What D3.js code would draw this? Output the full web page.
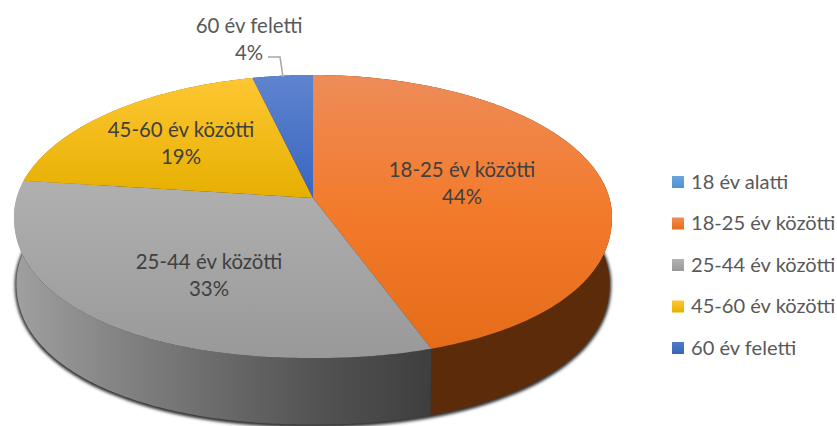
<!DOCTYPE html>
<html>
<head>
<meta charset="utf-8">
<script src="https://cdn.jsdelivr.net/npm/d3@7"></script>
<style>
	html, body { margin: 0; padding: 0; background: #fff; overflow: hidden; }
	text { font-family: Lato, "Open Sans", sans-serif; }
</style>
</head>
<body>
<div class="canvas"></div>
<script>
	const categories = ["18 év alatti", "18-25 év közötti", "25-44 év közötti", "45-60 év közötti", "60 év feletti"];
	const values = [0, 44.3, 32.7, 19.3, 3.7];
	const percentLabels = ["0%", "44%", "33%", "19%", "4%"];

	const topColors = [
		["#6aa6dc", "#4f91cf"],
		["#ee8c58", "#f37a2b", "#e56c18"],
		["#b0b0b0", "#999999"],
		["#fec733", "#e6af00"],
		["#5f84cf", "#3a66c0"],
	];
	const legendColors = [
		["#6aa6dc", "#4f91cf"],
		["#ef8c58", "#e76d18"],
		["#b3b3b3", "#999999"],
		["#fec733", "#e6af00"],
		["#4f7bcb", "#3b64b5"],
	];
	// [x, y] of the two line label centre, one per category
	const labelSpots = [null, [462, 170], [209, 262], [181, 130], [249, 26]];

	const dimensions = { width: 837, height: 426 };
	const disc = { cx: 313, cy: 198, rx: 296.4, ry: 139.1, k: 0.1307 };
	const depth = 66.5;
	const bottomScale = 0.992;
	// the front half of the rim is a bit fuller than a true ellipse
	const rimPower = 2.15;

	const svg = d3
		.select(".canvas")
		.append("svg")
		.attr("width", dimensions.width)
		.attr("height", dimensions.height)
		.style("display", "block");
	const defs = svg.append("defs");

	// circle seen in perspective: nearer edge is further from the centre
	const project = (angle, lower) => {
		const u = Math.sin(angle);
		const v = -Math.cos(angle);
		const w = 1 - disc.k * v;
		const s = lower ? bottomScale : 1;
		const px = (disc.rx * u) / w;
		let py = (disc.ry * v) / w;
		const halfW = disc.rx / Math.sqrt(1 - disc.k * disc.k);
		const halfH = disc.ry / (1 - disc.k * disc.k);
		const midY = (disc.ry * disc.k) / (1 - disc.k * disc.k);
		if (py > midY) {
			const nx = Math.min(1, Math.abs(px) / halfW);
			py = midY + halfH * Math.pow(1 - Math.pow(nx, rimPower), 1 / rimPower);
		}
		return [disc.cx + s * px, disc.cy + (lower ? depth : 0) + py];
	};
	const sample = (from, to, lower) =>
		d3.range(0, 161).map((i) => project(from + ((to - from) * i) / 160, lower));
	const line = d3.line();

	const pie = d3.pie().sort(null).value((d) => d);
	const slices = pie(values);

	const addVertical = (id, colors) => {
		const g = defs.append("linearGradient").attr("id", id)
			.attr("x1", 0).attr("y1", 0).attr("x2", 0).attr("y2", 1);
		colors.forEach((c, i) => {
			g.append("stop").attr("offset", i / (colors.length - 1)).attr("stop-color", c);
		});
	};
	topColors.forEach((c, i) => addVertical(`top${i}`, c));
	legendColors.forEach((c, i) => addVertical(`leg${i}`, c));

	const grayWall = defs.append("linearGradient").attr("id", "grayWall")
		.attr("gradientUnits", "userSpaceOnUse")
		.attr("x1", 15).attr("y1", 0).attr("x2", 432).attr("y2", 0);
	grayWall.append("stop").attr("offset", "0%").attr("stop-color", "#a0a0a0");
	grayWall.append("stop").attr("offset", "25%").attr("stop-color", "#838383");
	grayWall.append("stop").attr("offset", "70%").attr("stop-color", "#555555");
	grayWall.append("stop").attr("offset", "100%").attr("stop-color", "#3e3e3e");

	const blur = defs.append("filter").attr("id", "soft")
		.attr("x", "-5%").attr("y", "-5%").attr("width", "110%").attr("height", "110%");
	blur.append("feGaussianBlur").attr("stdDeviation", 1.6);

	const wallFills = ["#3c6e9c", "#5c2c0a", "url(#grayWall)", "#8a6a00", "#2b4a85"];

	const graph = svg.append("g");

	// shadow under the whole disc
	graph.append("path")
		.attr("d", line(sample(0, 2 * Math.PI, true)) + "Z")
		.attr("transform", "translate(0,1)")
		.attr("fill", "#333333")
		.attr("stroke", "#333333")
		.attr("stroke-width", 3.5)
		.attr("filter", "url(#soft)");

	graph.selectAll("path.wall")
		.data(slices.filter((d) => d.value > 0))
		.enter()
		.append("path")
		.attr("class", "wall")
		.attr("fill", (d) => wallFills[d.index])
		.attr("d", (d) =>
			line(sample(d.startAngle, d.endAngle, false).concat(sample(d.endAngle, d.startAngle, true))) + "Z"
		);

	graph.selectAll("path.slice")
		.data(slices.filter((d) => d.value > 0))
		.enter()
		.append("path")
		.attr("class", "slice")
		.attr("fill", (d) => `url(#top${d.index})`)
		.attr("d", (d) =>
			line([[disc.cx, disc.cy]].concat(sample(d.startAngle, d.endAngle, false))) + "Z"
		);

	// leader for the small slice
	svg.append("path")
		.attr("d", line([[268, 57], [280, 57], [283, 77]]))
		.attr("fill", "none")
		.attr("stroke", "#a6a6a6")
		.attr("stroke-width", 1.5);

	const labels = svg.selectAll("g.label")
		.data(categories.map((name, i) => ({ name, i })).filter((d) => labelSpots[d.i]))
		.enter()
		.append("g")
		.attr("class", "label")
		.attr("transform", (d) => `translate(${labelSpots[d.i][0]}, ${labelSpots[d.i][1]})`)
		.attr("text-anchor", "middle")
		.attr("font-size", 20.4)
		.attr("fill", (d) => (d.i === 4 ? "#595959" : "#404040"));
	labels.append("text").attr("y", 6.5).text((d) => d.name);
	labels.append("text").attr("y", 33.5).text((d) => percentLabels[d.i]);

	const legendY = d3.scalePoint().domain(categories).range([182, 348]);
	const legend = svg.selectAll("g.legend")
		.data(categories)
		.enter()
		.append("g")
		.attr("class", "legend")
		.attr("transform", (d) => `translate(672, ${legendY(d)})`);
	legend.append("rect")
		.attr("y", -6).attr("width", 12).attr("height", 12)
		.attr("fill", (d, i) => `url(#leg${i})`);
	legend.append("text")
		.attr("x", 19).attr("y", 6.5)
		.attr("font-size", 20.1)
		.attr("fill", "#595959")
		.text((d) => d);
</script>
</body>
</html>
